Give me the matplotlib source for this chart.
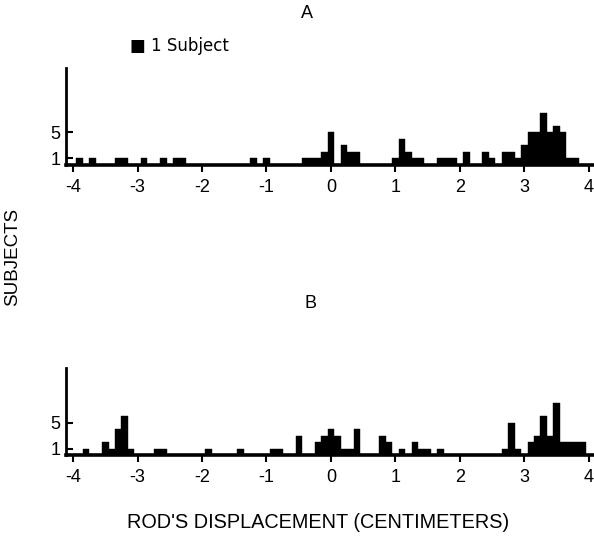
import matplotlib
matplotlib.use("Agg")
import matplotlib.pyplot as plt

plt.rcParams['font.family'] = ['Liberation Sans', 'DejaVu Sans']

# Panel A: bin centers (cm) and subject counts
a_pos = [-3.9, -3.7, -3.3, -3.2, -2.9, -2.6, -2.4, -2.3, -1.2, -1.0,
         -0.4, -0.3, -0.2, -0.1, 0.0, 0.2, 0.3, 0.4,
         1.0, 1.1, 1.2, 1.3, 1.4, 1.7, 1.8, 1.9,
         2.1, 2.4, 2.5, 2.7, 2.8, 2.9, 3.0, 3.1, 3.2, 3.3, 3.4, 3.5, 3.6, 3.7, 3.8]
a_cnt = [1, 1, 1, 1, 1, 1, 1, 1, 1, 1,
         1, 1, 1, 2, 5, 3, 2, 2,
         1, 4, 2, 1, 1, 1, 1, 1,
         2, 2, 1, 2, 2, 1, 3, 5, 5, 8, 5, 6, 5, 1, 1]

# Panel B
b_pos = [-3.8, -3.5, -3.4, -3.3, -3.2, -3.1, -2.7, -2.6, -1.9, -1.4,
         -0.9, -0.8, -0.5, -0.2, -0.1, 0.0, 0.1, 0.2, 0.3, 0.4,
         0.8, 0.9, 1.1, 1.3, 1.4, 1.5, 1.7,
         2.7, 2.8, 2.9, 3.1, 3.2, 3.3, 3.4, 3.5, 3.6, 3.7, 3.8, 3.9]
b_cnt = [1, 2, 1, 4, 6, 1, 1, 1, 1, 1,
         1, 1, 3, 2, 3, 4, 3, 1, 1, 4,
         3, 2, 1, 2, 1, 1, 1,
         1, 5, 1, 2, 3, 6, 3, 8, 2, 2, 2, 2]

xticks = [-4, -3, -2, -1, 0, 1, 2, 3, 4]
xticklabels = ['-4', '-3', '-2', '-1', '0', '1', '2', '3', '4']
yticks = [1, 5]
yticklabels = ['1', '5']

W, H = 594, 537
fig = plt.figure(figsize=(W / 100, H / 100), dpi=100)


def make_ax(top_px, base_px, ymax):
    ax = fig.add_axes([66 / W, 1 - base_px / H, (W - 66) / W, (base_px - top_px) / H])
    ax.set_xlim(-4.11, 4.08)
    ax.set_ylim(0, ymax)
    for s in ['top', 'right']:
        ax.spines[s].set_visible(False)
    ax.spines['bottom'].set_linewidth(2.6)
    ax.spines['left'].set_linewidth(2.0)
    ax.set_xticks(xticks)
    ax.set_xticklabels(xticklabels, fontsize=13)
    ax.set_yticks(yticks)
    ax.set_yticklabels(yticklabels, fontsize=13)
    ax.tick_params(axis='x', direction='out', length=5, width=1.5, pad=5)
    ax.tick_params(axis='y', direction='in', length=5, width=1.5, pad=4)
    return ax


axA = make_ax(68, 165, 14.9)
axA.bar(a_pos, a_cnt, width=0.1, color='black', edgecolor='black', linewidth=0.3)

axB = make_ax(368, 455, 13.4)
axB.bar(b_pos, b_cnt, width=0.1, color='black', edgecolor='black', linewidth=0.3)

fig.text(307 / W, 1 - 14 / H, 'A', ha='center', va='center', fontsize=13)
fig.text(311 / W, 1 - 303 / H, 'B', ha='center', va='center', fontsize=13)
fig.text(130 / W, 1 - 46 / H, '\u25A0 1 Subject', ha='left', va='center', fontsize=12,
         family=['DejaVu Sans'])
fig.text(13 / W, 1 - 257 / H, 'SUBJECTS', rotation=90, ha='center', va='center', fontsize=13.5)
fig.text(318 / W, 1 - 522 / H, "ROD'S DISPLACEMENT (CENTIMETERS)", ha='center', va='center',
         fontsize=14.3)

fig.savefig('out.png', dpi=100)
